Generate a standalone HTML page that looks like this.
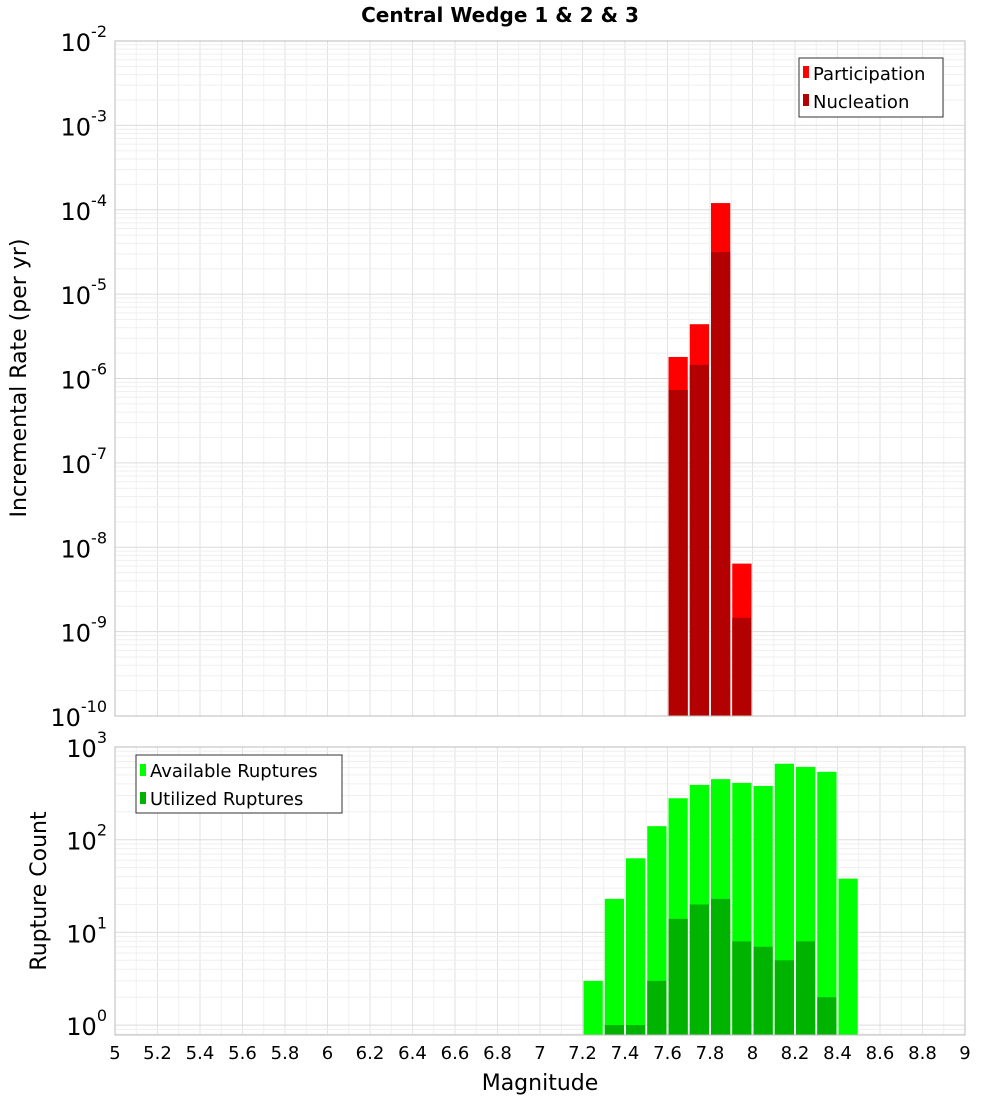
<!DOCTYPE html>
<html><head><meta charset="utf-8"><style>
body{margin:0;background:#fff;font-family:"DejaVu Sans","Liberation Sans",sans-serif;}
svg text{font-family:"DejaVu Sans","Liberation Sans",sans-serif;}
</style></head><body>
<svg id="chart" width="1000" height="1100" xmlns="http://www.w3.org/2000/svg">
<text x="500" y="22" text-anchor="middle" font-size="20" font-weight="bold">Central Wedge 1 &amp; 2 &amp; 3</text>
<g id="top"></g>
<g id="bot"></g>
<text x="540" y="1090" text-anchor="middle" font-size="22">Magnitude</text>
<text transform="translate(26,378) rotate(-90)" text-anchor="middle" font-size="22">Incremental Rate (per yr)</text>
<text transform="translate(46,891) rotate(-90)" text-anchor="middle" font-size="22">Rupture Count</text>
</svg>
<script>
const rateMags=[7.65,7.75,7.85,7.95];
const participation=[1.8e-6,4.4e-6,1.2e-4,6.4e-9];
const nucleation=[7.3e-7,1.45e-6,3.16e-5,1.46e-9];
const countMags=[7.25,7.35,7.45,7.55,7.65,7.75,7.85,7.95,8.05,8.15,8.25,8.35,8.45];
const available=[3,23,63,140,280,390,450,410,380,660,610,540,38];
const utilized=[0,1,1,3,14,20,23,8,7,5,8,2,0];
const xTicks=[5,5.2,5.4,5.6,5.8,6,6.2,6.4,6.6,6.8,7,7.2,7.4,7.6,7.8,8,8.2,8.4,8.6,8.8,9];

const NS="http://www.w3.org/2000/svg";
const svg=document.getElementById('chart');
const X0=115,X1=965;
const xs=m=>X0+(m-5)/4*(X1-X0);
function el(tag,attrs,parent){const e=document.createElementNS(NS,tag);for(const k in attrs)e.setAttribute(k,attrs[k]);parent.appendChild(e);return e;}

function panel(g,top,bottom,logMax,decPx,logMin,name){
  const ys=v=>top+(logMax-Math.log10(v))*decPx;
  // grid
  for(let m=5;m<=9.0001;m+=0.1){
    const l=el('line',{x1:xs(m),x2:xs(m),y1:top,y2:bottom,stroke:Math.abs(Math.round(m*5)-m*5)<1e-6?'#e2e2e2':'#f0f0f0','stroke-width':1},g);
    
  }
  for(let d=Math.floor(logMin);d<logMax;d++){
    for(let k=1;k<10;k++){
      const y=ys(k*Math.pow(10,d));
      if(y<top-0.5||y>bottom+0.5)continue;
      const l=el('line',{x1:X0,x2:X1,y1:y,y2:y,stroke:k===1?'#dcdcdc':'#efefef','stroke-width':1},g);
      
    }
  }
  for(let d=Math.ceil(logMin);d<=logMax;d++){
    const y=ys(Math.pow(10,d));
    const t=el('text',{x:X0-8,y:y+10,'text-anchor':'end','font-size':24},g);
    
    t.textContent='10';
    const s=el('tspan',{dy:-14,'font-size':16},t);s.textContent=String(d);
  }
  return ys;
}

const gt=document.getElementById('top');
const ysT=panel(gt,41,716,-2,84.375,-10,'top');
const bw=(X1-X0)/40;
rateMags.forEach((m,i)=>{
  const r=el('rect',{x:xs(m)-bw/2+1,y:ysT(participation[i]),width:bw-2,height:716-ysT(participation[i]),fill:'#ff0000'},gt);
  
  const n=el('rect',{x:xs(m)-bw/2+1,y:ysT(nucleation[i]),width:bw-2,height:716-ysT(nucleation[i]),fill:'#b30000'},gt);
  
});
let f=el('rect',{x:X0,y:41,width:X1-X0,height:675,fill:'none',stroke:'#bbb'},gt);

// legend top
let lg=el('g',{},gt);
el('rect',{x:799,y:58,width:144,height:59,fill:'#fff',stroke:'#333'},lg);
el('rect',{x:803,y:66,width:6,height:12,fill:'#ff0000'},lg);
el('rect',{x:803,y:94,width:6,height:12,fill:'#b30000'},lg);
let t=el('text',{x:813,y:80,'font-size':18},lg);t.textContent='Participation';
t=el('text',{x:813,y:108,'font-size':18},lg);t.textContent='Nucleation';

const gb=document.getElementById('bot');
const ysB=panel(gb,747,1035,3,92.7,-0.107,'bot');
countMags.forEach((m,i)=>{
  const a=el('rect',{x:xs(m)-bw/2+1,y:ysB(available[i]),width:bw-2,height:1035-ysB(available[i]),fill:'#00ff00'},gb);
  
  if(utilized[i]>0){
    const u=el('rect',{x:xs(m)-bw/2+1,y:ysB(utilized[i]),width:bw-2,height:1035-ysB(utilized[i]),fill:'#00b300'},gb);
    
  }
});
f=el('rect',{x:X0,y:747,width:X1-X0,height:288,fill:'none',stroke:'#bbb'},gb);

lg=el('g',{},gb);
el('rect',{x:136,y:755,width:206,height:58,fill:'#fff',stroke:'#333'},lg);
el('rect',{x:140,y:764,width:6,height:12,fill:'#00ff00'},lg);
el('rect',{x:140,y:792,width:6,height:12,fill:'#00b300'},lg);
t=el('text',{x:150,y:777,'font-size':18},lg);t.textContent='Available Ruptures';
t=el('text',{x:150,y:805,'font-size':18},lg);t.textContent='Utilized Ruptures';

xTicks.forEach(v=>{
  const tx=el('text',{x:xs(v),y:1059,'text-anchor':'middle','font-size':18},svg);
  
  tx.textContent=String(v);
});
</script>
</body></html>
